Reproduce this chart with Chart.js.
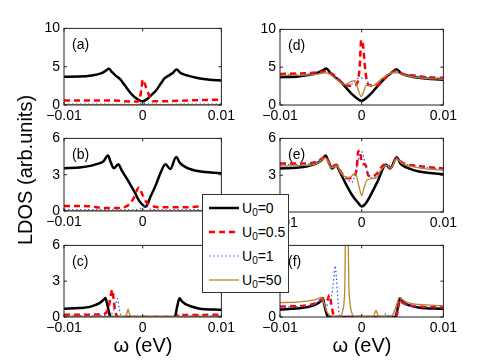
<!DOCTYPE html>
<html>
<head>
<meta charset="utf-8">
<script src="https://cdn.jsdelivr.net/npm/chart.js@4/dist/chart.umd.min.js"></script>
<style>
  body { margin: 0; background: #fff; }
  #fig { position: relative; width: 491px; height: 361px; overflow: hidden; font-family: "Liberation Sans", Arial, sans-serif; color: #000; }
  #fig canvas { position: absolute; }
  .xlabel { position: absolute; top: 333px; width: 120px; text-align: center; font-size: 20px; line-height: 24px; }
  .ylabel { position: absolute; left: 25px; top: 170px; font-size: 20px; line-height: 24px; white-space: nowrap; transform: translate(-50%, -50%) rotate(-90deg); }
  #legend { position: absolute; left: 202px; top: 194px; width: 85px; height: 97px; background: #fff; border: 1px solid #333; z-index: 10; }
  #legend .row { position: absolute; left: 0; height: 20px; font-size: 14px; line-height: 20px; }
  #legend svg { position: absolute; left: 5px; top: 0; }
  #legend span { position: absolute; left: 39px; white-space: nowrap; }
  #legend sub { font-size: 10px; vertical-align: -3px; line-height: 0; }
</style>
</head>
<body>
<div id="fig"></div>
<script>
// omega in meV, LDOS in arb. units
// series order in every panel: U0=0, U0=0.5, U0=1, U0=50

const aU0 = [[-10,3.7],[-8,3.72],[-6.5,3.85],[-5.4,4.1],[-4.8,4.4],[-4.3,4.72],[-3.9,4.3],[-3.4,3.8],[-2.9,3.4],[-2.3,2.6],[-1.65,1.7],[-1.1,1.1],[-0.6,0.72],[0,0.5],[0.6,0.8],[1.1,1.3],[1.7,1.9],[2.3,2.8],[2.8,3.5],[3.4,3.9],[3.9,4.25],[4.3,4.65],[4.8,4.2],[5.5,3.9],[7.1,3.5],[8.5,3.3],[10,3.2]];
const aU05 = [[-10,0.6],[-6,0.6],[-3,0.55],[-1.5,0.45],[-0.6,0.45],[-0.35,0.9],[-0.15,2.2],[0,3.3],[0.4,2.4],[0.8,1.3],[1.3,0.5],[3,0.5],[6,0.6],[10,0.7]];
const aU1 = [[-10,0.12],[-3,0.1],[-0.6,0.1],[0,0.3],[0.5,0.12],[3,0.1],[10,0.12]];
const aU50 = [[-10,0.03],[0,0.03],[10,0.03]];

const bU0 = [[-10,3.53],[-8,3.6],[-6.5,3.75],[-5.86,3.87],[-5,4.1],[-4.4,4.59],[-4.1,4.1],[-3.67,3.53],[-3.1,3.87],[-2.7,3.4],[-2.07,2.73],[-1.5,2.1],[-1,1.54],[-0.5,0.9],[0,0.5],[0.35,0.35],[1.0,1.2],[1.7,2.2],[2.3,3.2],[2.9,3.87],[3.5,3.47],[4.26,4.46],[4.7,4.0],[5.5,3.6],[7,3.3],[10,3.13]];
const bU05 = [[-10,0.42],[-7,0.4],[-5,0.25],[-3,0.25],[-1.8,0.5],[-1.2,1.0],[-0.47,1.94],[0,1.3],[0.5,0.7],[1.1,0.45],[2,0.3],[5,0.3],[8,0.4],[10,0.48]];
const bU1 = [[-10,0.12],[-1,0.1],[0,0.3],[0.4,0.45],[0.9,0.15],[3,0.1],[10,0.12]];
const bU50 = [[-10,0.02],[-0.5,0.02],[0,0.1],[0.5,0.02],[10,0.02]];

const cU0 = [[-10,0.69],[-8,0.75],[-6.7,0.85],[-5.44,1.18],[-4.95,1.45],[-4.75,1.6],[-4.55,1.2],[-4.4,0.77],[-4.25,0.3],[-4.1,0.05],[-3.8,0],[3.9,0],[4.15,0.1],[4.35,0.77],[4.68,1.57],[5,1.3],[5.5,1.05],[7.1,0.72],[10,0.6]];
const cU05 = [[-10,0.18],[-6,0.2],[-5,0.25],[-4.6,0.4],[-4.3,0.9],[-4.05,1.8],[-3.86,2.3],[-3.7,1.5],[-3.5,0.5],[-3.3,0.1],[-3,0],[4.2,0],[4.5,0.15],[10,0.18]];
const cU1 = [[-10,0.1],[-5,0.12],[-4.2,0.15],[-3.8,0.4],[-3.5,0.9],[-3.2,1.55],[-3.0,0.8],[-2.8,0.2],[-2.5,0],[4.2,0],[4.5,0.1],[10,0.1]];
const cU50 = [[-10,0.05],[-4.5,0.05],[-4,0.02],[-2.3,0.02],[-2.0,0.3],[-1.86,0.68],[-1.7,0.3],[-1.4,0.02],[4.2,0.02],[4.5,0.05],[10,0.05]];

const dU0 = [[-10,3.68],[-8,3.75],[-6.5,3.95],[-5.3,4.3],[-4.7,4.6],[-4.34,4.82],[-3.8,4.2],[-3.3,3.7],[-2.72,3.24],[-2,2.4],[-1.29,1.54],[-0.6,0.9],[0,0.55],[0.6,0.95],[1.34,1.75],[2.2,2.8],[2.97,3.67],[3.6,4.2],[4.27,4.74],[4.8,4.2],[5.5,3.9],[7,3.6],[8.5,3.45],[10,3.33]];
const dU05 = [[-10,4.1],[-7,4.2],[-5.5,4.3],[-4.4,4.45],[-3.8,4.2],[-3.33,3.9],[-2.3,2.8],[-1.6,2.55],[-0.9,2.6],[-0.5,3.0],[-0.25,5],[-0.05,8.6],[0.15,8.0],[0.45,4.5],[0.8,2.7],[1.3,2.55],[1.95,2.6],[2.77,3.5],[3.5,4.2],[4.2,4.5],[5,4.1],[6.5,3.9],[8,3.7],[10,3.6]];
const dU1 = [[-10,4.0],[-7,4.05],[-5.5,4.2],[-4.4,4.4],[-3.8,4.1],[-3,3.5],[-2.2,2.8],[-1.5,2.6],[-0.8,3.2],[-0.4,3.55],[0.3,3.6],[0.8,3.0],[1.5,2.6],[2.4,3.3],[3.2,4.0],[4.2,4.45],[5,4.1],[7,3.8],[10,3.55]];
const dU50 = [[-10,3.9],[-7,3.95],[-5.5,4.05],[-4.4,4.25],[-3.8,4.0],[-3,3.3],[-2.1,2.7],[-1.0,3.2],[-0.7,2.8],[-0.35,1.8],[-0.07,1.1],[0.25,1.8],[0.54,2.6],[1.34,2.55],[2.36,3.4],[3.2,4.0],[4.1,4.3],[5,4.0],[7,3.6],[10,3.4]];

const eU0 = [[-10,3.55],[-8,3.6],[-6.5,3.75],[-5.4,4.0],[-4.8,4.3],[-4.43,4.6],[-4.0,4.0],[-3.65,3.55],[-3.1,3.8],[-2.7,3.3],[-2.1,2.5],[-1.1,1.3],[-0.5,0.8],[0,0.45],[0.5,0.7],[0.94,1.18],[1.95,2.5],[2.97,3.85],[3.5,3.55],[4.27,4.47],[4.8,3.9],[5.6,3.6],[7,3.3],[10,3.08]];
const eU05 = [[-10,3.95],[-7,3.95],[-5.5,4.1],[-4.4,4.5],[-3.7,3.7],[-3.1,3.85],[-2.5,3.2],[-1.7,2.76],[-1.0,2.9],[-0.6,3.6],[-0.45,4.9],[-0.2,5.0],[0,4.0],[0.3,3.9],[0.5,3.8],[0.8,3.0],[1.3,2.9],[1.95,3.2],[2.6,3.8],[3.1,3.9],[3.55,3.6],[4.27,4.4],[5,4.0],[7,3.75],[10,3.55]];
const eU1 = [[-10,3.85],[-7,3.9],[-5.5,4.05],[-4.4,4.45],[-3.7,3.65],[-3.1,3.8],[-2.5,3.1],[-1.7,2.6],[-1.2,2.4],[-0.7,3.4],[-0.3,4.5],[0,4.9],[0.3,4.3],[0.6,3.5],[0.9,2.9],[1.5,2.8],[2.2,3.3],[3.0,3.9],[3.55,3.6],[4.27,4.4],[5,4.0],[7,3.7],[10,3.5]];
const eU50 = [[-10,3.75],[-7,3.8],[-5.5,3.95],[-4.43,4.4],[-3.7,3.6],[-3.1,3.75],[-2.5,3.2],[-2.1,2.9],[-1.5,2.8],[-0.8,3.15],[-0.3,2.0],[0,1.32],[0.3,2.0],[0.7,2.63],[1.7,2.76],[2.56,3.6],[3.1,3.8],[3.55,3.55],[4.27,4.3],[5,3.95],[7,3.6],[10,3.4]];

const fU0 = [[-10,0.63],[-8,0.72],[-6.5,0.85],[-5.5,1.1],[-5,1.35],[-4.76,1.58],[-4.6,1.1],[-4.4,0.5],[-4.2,0.1],[-4.0,0],[4.1,0],[4.3,0.4],[4.5,1.1],[4.68,1.58],[5,1.3],[5.5,1.05],[7,0.8],[10,0.68]];
const fU05 = [[-10,0.88],[-7,0.95],[-5.5,1.2],[-4.8,1.5],[-4.5,1.3],[-4.2,1.4],[-3.95,1.85],[-3.75,1.2],[-3.5,0.3],[-3.3,0],[4.2,0],[4.4,0.5],[4.68,1.45],[5,1.2],[7,0.9],[10,0.8]];
const fU1 = [[-10,0.85],[-7,0.9],[-5.5,1.15],[-4.76,1.5],[-4.4,1.0],[-3.95,1.0],[-3.7,1.7],[-3.5,2.7],[-3.35,3.7],[-3.24,4.3],[-3.1,3.3],[-2.95,1.8],[-2.8,0.5],[-2.65,0.05],[-2.3,0],[2.6,0],[3.0,0.3],[3.3,0.1],[4.0,0.2],[4.4,0.8],[4.68,1.5],[5,1.25],[7,0.9],[10,0.8]];
const fU50 = [[-10,1.2],[-8,1.25],[-6.5,1.35],[-5.5,1.5],[-4.95,1.65],[-4.7,1.3],[-4.34,0.55],[-3.9,0.14],[-3.5,0.05],[-2.6,0.1],[-2.3,0.6],[-2.15,1.3],[-2.05,3],[-2.0,6.5],[-1.9,14],[-1.8,14],[-1.65,6.5],[-1.58,3],[-1.45,1.3],[-1.3,0.6],[-1.0,0.1],[-0.5,0.05],[1.4,0.05],[1.6,0.3],[1.75,0.55],[1.9,0.3],[2.1,0.05],[3.6,0.05],[4.0,0.5],[4.3,1.1],[4.6,1.64],[5,1.45],[5.5,1.25],[7,1.05],[10,0.95]];

const seriesNames = ["0", "0.5", "1", "50"];
const xTicks = [-0.01, 0, 0.01];
const xTickLabels = ["\u22120.01", "0", "0.01"];
const yTicks10 = [0, 5, 10];
const yTicks6 = [0, 3, 6];

const seriesStyle = [
  { color: "#000000", width: 2.5, dash: [] },
  { color: "#ff0000", width: 2.5, dash: [6, 4] },
  { color: "#3050ff", width: 1.2, dash: [1.5, 2.5] },
  { color: "#b8862b", width: 1.3, dash: [] }
];

const PAD_L = 40, PAD_T = 10, PAD_R = 16, PAD_B = 22;

const boxPlugin = {
  id: "box",
  afterDraw(chart, args, opts) {
    const ctx = chart.ctx;
    const a = chart.chartArea;
    const sx = chart.scales.x, sy = chart.scales.y;
    ctx.save();
    ctx.strokeStyle = "#222";
    ctx.lineWidth = 1;
    ctx.setLineDash([]);
    ctx.strokeRect(a.left, a.top, a.right - a.left, a.bottom - a.top);
    ctx.beginPath();
    sx.ticks.forEach(t => {
      const px = sx.getPixelForValue(t.value);
      ctx.moveTo(px, a.bottom); ctx.lineTo(px, a.bottom - 3);
      ctx.moveTo(px, a.top); ctx.lineTo(px, a.top + 3);
    });
    sy.ticks.forEach(t => {
      const py = sy.getPixelForValue(t.value);
      ctx.moveTo(a.left, py); ctx.lineTo(a.left + 3, py);
      ctx.moveTo(a.right, py); ctx.lineTo(a.right - 3, py);
    });
    ctx.stroke();
    ctx.fillStyle = "#000";
    ctx.font = '14px "Liberation Sans", Arial, sans-serif';
    ctx.textBaseline = "middle";
    ctx.textAlign = "left";
    ctx.fillText(opts.label, a.left + 8, a.top + 17);
    ctx.restore();
  }
};

function CreatePanel(fig, label, series, yTicks, left, top, w, h) {
  const canvas = document.createElement("canvas");
  canvas.width = w + PAD_L + PAD_R;
  canvas.height = h + PAD_T + PAD_B;
  canvas.style.left = (left - PAD_L) + "px";
  canvas.style.top = (top - PAD_T) + "px";
  fig.appendChild(canvas);

  const datasets = series.map((pts, i) => ({
    label: "U0=" + seriesNames[i],
    data: pts.map(p => ({ x: p[0] / 1000, y: p[1] })),
    borderColor: seriesStyle[i].color,
    borderWidth: seriesStyle[i].width,
    borderDash: seriesStyle[i].dash,
    pointRadius: 0,
    fill: false,
    cubicInterpolationMode: "monotone",
    order: 4 - i
  }));

  return new Chart(canvas, {
    type: "line",
    data: { datasets: datasets },
    options: {
      responsive: false,
      animation: false,
      devicePixelRatio: 1,
      layout: { padding: { left: 0, top: PAD_T, right: PAD_R, bottom: 0 } },
      plugins: { legend: { display: false }, tooltip: { enabled: false }, box: { label: label } },
      scales: {
        x: {
          type: "linear", min: -0.01, max: 0.01,
          grid: { display: false, drawTicks: false }, border: { display: false },
          afterBuildTicks: s => { s.ticks = xTicks.map(v => ({ value: v })); },
          afterFit: s => { s.height = PAD_B; },
          ticks: { autoSkip: false, maxRotation: 0, padding: 3, color: "#000",
            font: { family: "Liberation Sans", size: 14 },
            callback: (v, i) => xTickLabels[i] }
        },
        y: {
          min: yTicks[0], max: yTicks[yTicks.length - 1],
          grid: { display: false, drawTicks: false }, border: { display: false },
          afterBuildTicks: s => { s.ticks = yTicks.map(v => ({ value: v })); },
          afterFit: s => { s.width = PAD_L; },
          ticks: { autoSkip: false, padding: 4, color: "#000",
            font: { family: "Liberation Sans", size: 14 },
            callback: v => String(v) }
        }
      }
    },
    plugins: [boxPlugin]
  });
}

const fig = document.getElementById("fig");

CreatePanel(fig, "(a)", [aU0, aU05, aU1, aU50], yTicks10, 64, 26, 158, 79);
CreatePanel(fig, "(b)", [bU0, bU05, bU1, bU50], yTicks6, 64, 136, 158, 75);
CreatePanel(fig, "(c)", [cU0, cU05, cU1, cU50], yTicks6, 64, 243, 158, 74);
CreatePanel(fig, "(d)", [dU0, dU05, dU1, dU50], yTicks10, 280, 27, 164, 78);
CreatePanel(fig, "(e)", [eU0, eU05, eU1, eU50], yTicks6, 280, 136, 164, 76);
CreatePanel(fig, "(f)", [fU0, fU05, fU1, fU50], yTicks6, 280, 243, 164, 74);

// axis labels
const xl1 = document.createElement("div");
xl1.className = "xlabel"; xl1.style.left = (143 - 60) + "px"; xl1.textContent = "\u03c9 (eV)";
fig.appendChild(xl1);
const xl2 = document.createElement("div");
xl2.className = "xlabel"; xl2.style.left = (362 - 60) + "px"; xl2.textContent = "\u03c9 (eV)";
fig.appendChild(xl2);
const yl = document.createElement("div");
yl.className = "ylabel"; yl.textContent = "LDOS (arb.units)";
fig.appendChild(yl);

// legend
const legend = document.createElement("div");
legend.id = "legend";
const rowCenters = [13, 37, 61, 85];
seriesNames.forEach((name, i) => {
  const st = seriesStyle[i];
  const row = document.createElement("div");
  row.className = "row";
  row.style.top = (rowCenters[i] - 10) + "px";
  row.style.width = "85px";
  const dash = st.dash.length ? ' stroke-dasharray="' + st.dash.join(",") + '"' : "";
  row.innerHTML = '<svg width="32" height="20"><line x1="1" y1="10" x2="31" y2="10" stroke="' + st.color +
    '" stroke-width="' + st.width + '"' + dash + '/></svg><span>U<sub>0</sub>=' + name + '</span>';
  legend.appendChild(row);
});
fig.appendChild(legend);
</script>
</body>
</html>
